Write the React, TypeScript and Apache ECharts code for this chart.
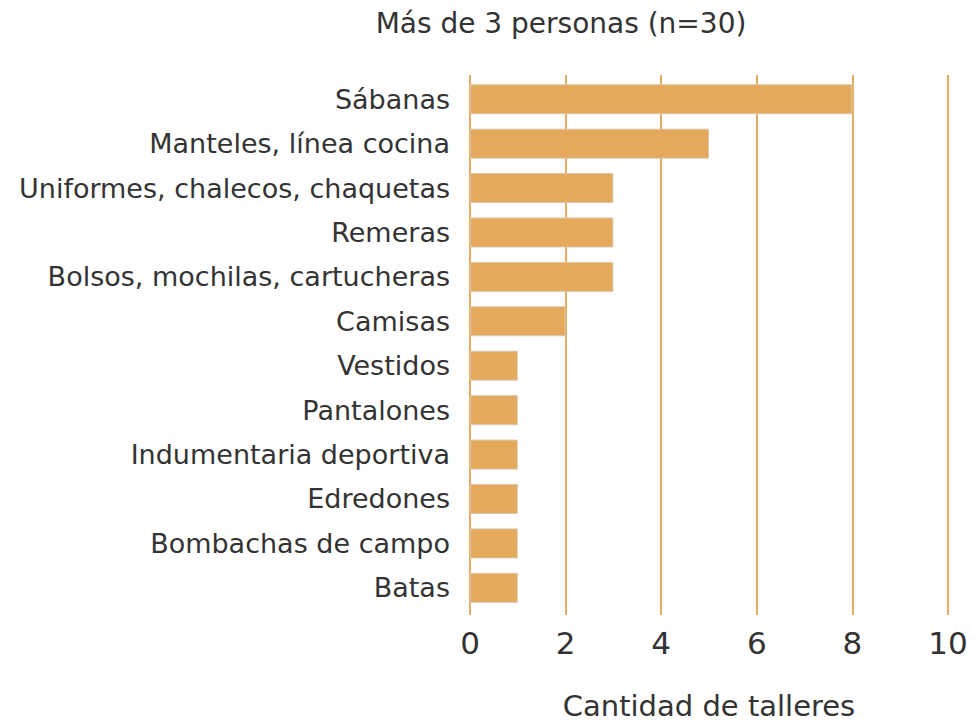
import React, { useEffect, useRef } from "react";
import * as echarts from "echarts";

const categories = [
  "Sábanas",
  "Manteles, línea cocina",
  "Uniformes, chalecos, chaquetas",
  "Remeras",
  "Bolsos, mochilas, cartucheras",
  "Camisas",
  "Vestidos",
  "Pantalones",
  "Indumentaria deportiva",
  "Edredones",
  "Bombachas de campo",
  "Batas",
];
const values = [8, 5, 3, 3, 3, 2, 1, 1, 1, 1, 1, 1];
const titleText = "Más de 3 personas (n=30)";
const axisName = "Cantidad de talleres";

const FONT = "'DejaVu Sans', sans-serif";

export default function App() {
  const ref = useRef<HTMLDivElement>(null);
  useEffect(() => {
    if (!ref.current) return;
    const chart = echarts.init(ref.current, null, { renderer: "svg" });
    chart.setOption({
      animation: false,
      backgroundColor: "#ffffff",
      title: {
        text: titleText,
        left: 556,
        textAlign: "center",
        top: 4,
        textStyle: { fontFamily: FONT, fontSize: 28, fontWeight: "normal", color: "#333333" },
      },
      grid: [
        { left: 470, right: 32, top: 77, height: 533, containLabel: false },
        { left: 470, right: 32, top: 75, bottom: 103, containLabel: false },
      ],
      xAxis: [
        {
          gridIndex: 0,
          type: "value",
          min: 0,
          max: 10,
          interval: 2,
          show: false,
          splitLine: { show: false },
        },
        {
          gridIndex: 1,
          type: "value",
          min: 0,
          max: 10,
          interval: 2,
          axisLine: { show: false },
          axisTick: { show: false },
          axisLabel: { fontFamily: FONT, fontSize: 31, color: "#333333", margin: 12 },
          splitLine: { show: true, lineStyle: { color: "#E6AD64", width: 2 } },
          name: axisName,
          nameLocation: "middle",
          nameGap: 76,
          nameTextStyle: { fontFamily: FONT, fontSize: 29, color: "#333333" },
        },
      ],
      yAxis: [
        {
          gridIndex: 0,
          type: "category",
          data: categories,
          inverse: true,
          axisLine: { show: false },
          axisTick: { show: false },
          axisLabel: { fontFamily: FONT, fontSize: 27, color: "#333333", margin: 20 },
          splitLine: { show: false },
        },
        {
          gridIndex: 1,
          type: "value",
          show: false,
          splitLine: { show: false },
        },
      ],
      series: [
        {
          type: "bar",
          xAxisIndex: 0,
          yAxisIndex: 0,
          data: values,
          barWidth: 30,
          z: 3,
          itemStyle: { color: "#E5A95B", borderColor: "#D9C7B0", borderWidth: 1 },
        },
      ],
    });
    return () => chart.dispose();
  }, []);
  return <div ref={ref} style={{ width: 980, height: 725, position: "absolute", left: 0, top: 0 }} />;
}
